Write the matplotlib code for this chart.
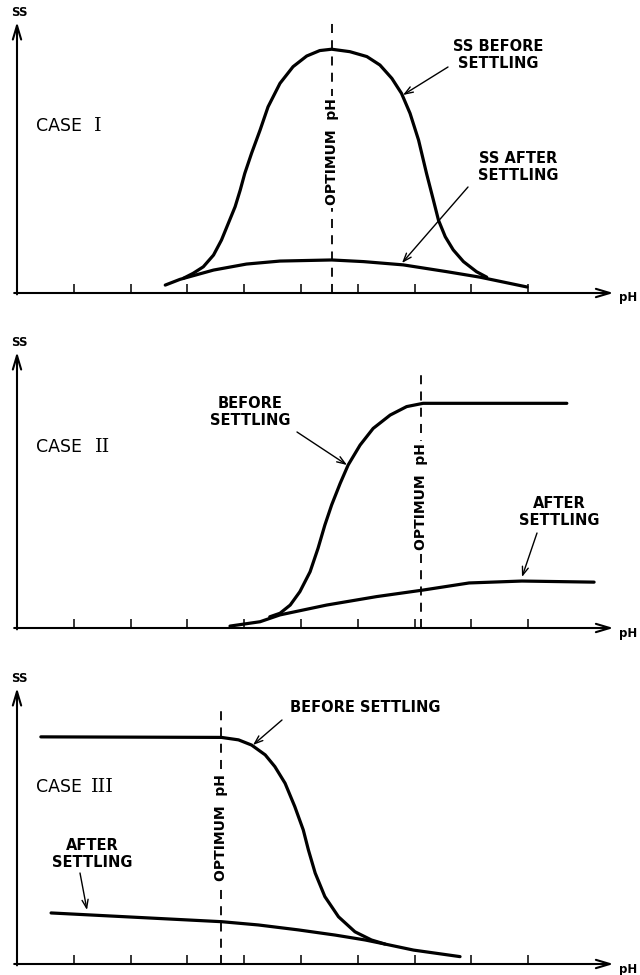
import matplotlib
matplotlib.use('Agg')
import matplotlib.pyplot as plt

plt.rcParams['font.family'] = ['DejaVu Sans', 'Noto Sans CJK JP']

W, H = 640, 975
XPX, YPX = 56.8, 27.3      # pixels per x unit / y unit
X0 = 17                    # pixel column of the SS axis

ticks = [1, 2, 3, 4, 5, 6, 7, 8, 9]

# case I
before1_x = [2.93, 3.10, 3.28, 3.46, 3.60, 3.72, 3.84, 3.93, 4.01, 4.13, 4.28,
             4.42, 4.63, 4.86, 5.10, 5.33, 5.54, 5.86, 6.16, 6.39, 6.60, 6.77,
             6.92, 7.07, 7.21, 7.33, 7.42, 7.54, 7.68, 7.86, 8.09, 8.27]
before1_y = [0.54, 0.72, 0.96, 1.39, 1.94, 2.55, 3.16, 3.77, 4.38, 5.12, 5.97,
             6.82, 7.68, 8.29, 8.68, 8.88, 8.93, 8.84, 8.66, 8.35, 7.86, 7.31,
             6.58, 5.60, 4.38, 3.41, 2.67, 2.06, 1.58, 1.15, 0.78, 0.58]
after1_x = [2.61, 2.87, 3.46, 4.04, 4.63, 5.54, 6.10, 6.80, 7.57, 8.15, 8.98]
after1_y = [0.29, 0.50, 0.84, 1.06, 1.17, 1.21, 1.15, 1.03, 0.78, 0.58, 0.22]
opt1 = 5.55

# case II
before2_x = [4.45, 4.63, 4.81, 4.98, 5.16, 5.30, 5.42, 5.54, 5.69, 5.83, 6.04,
             6.27, 6.57, 6.86, 7.15, 8.50, 9.68]
before2_y = [0.41, 0.54, 0.84, 1.33, 2.06, 2.92, 3.77, 4.51, 5.30, 5.97, 6.70,
             7.31, 7.80, 8.11, 8.23, 8.23, 8.23]
after2_x = [3.75, 4.28, 4.63, 5.45, 6.33, 7.15, 7.96, 8.89, 10.16]
after2_y = [0.07, 0.23, 0.48, 0.84, 1.15, 1.39, 1.65, 1.72, 1.68]
opt2 = 7.12

# case III
before3_x = [0.42, 3.60, 3.90, 4.13, 4.37, 4.54, 4.72, 4.89, 5.04, 5.13, 5.25,
             5.42, 5.66, 5.95, 6.24, 6.48]
before3_y = [8.32, 8.30, 8.21, 8.02, 7.66, 7.23, 6.62, 5.77, 4.91, 4.18, 3.33,
             2.47, 1.73, 1.18, 0.88, 0.73]
after3_x = [0.60, 3.60, 4.25, 4.95, 5.60, 6.13, 6.48, 6.98, 7.80]
after3_y = [1.87, 1.55, 1.43, 1.25, 1.06, 0.88, 0.73, 0.51, 0.27]
opt3 = 3.60

fig = plt.figure(figsize=(W / 100, H / 100), dpi=100)


def panel(top, bottom, axis_py):
    ax = fig.add_axes([0, 1 - bottom / H, 1, (bottom - top) / H])
    ax.set_xlim(-X0 / XPX, (W - X0) / XPX)
    ax.set_ylim((axis_py - bottom) / YPX, (axis_py - top) / YPX)
    ax.axis('off')
    return ax


def to_data(axis_py, px, py):
    return (px - X0) / XPX, (axis_py - py) / YPX


def frame(ax, axis_py, ytop_py):
    top = (axis_py - ytop_py) / YPX
    ax.annotate('', xy=(0, top), xytext=(0, -0.05),
                arrowprops=dict(arrowstyle='->,head_length=1.0,head_width=0.3',
                                lw=1.5, color='black', shrinkA=0, shrinkB=0))
    ax.annotate('', xy=(10.5, 0), xytext=(-0.05, 0),
                arrowprops=dict(arrowstyle='->,head_length=1.0,head_width=0.3',
                                lw=1.5, color='black', shrinkA=0, shrinkB=0))
    ax.vlines(ticks, 0, 0.33, color='black', lw=1.1)
    ax.text(*to_data(axis_py, 19, ytop_py - 10), 'SS', fontsize=8.5,
            fontweight='bold', ha='center', va='center')
    ax.text(*to_data(axis_py, 628, axis_py + 5), 'pH', fontsize=8.5,
            fontweight='bold', ha='center', va='center')


def optimum(ax, axis_py, x, top_py, label_py):
    ax.vlines(x, 0, (axis_py - top_py) / YPX, color='black', lw=1.3,
              linestyles=(0, (5, 4)))
    ax.text(x, (axis_py - label_py) / YPX, 'OPTIMUM  pH', rotation=90,
            fontsize=10, fontweight='bold', ha='center', va='center',
            bbox=dict(facecolor='white', edgecolor='none', pad=1.5))


def label(ax, axis_py, px, py, s, head, tail):
    ax.text(*to_data(axis_py, px, py), s, fontsize=10.5, fontweight='bold',
            ha='center', va='center', linespacing=1.15)
    ax.annotate('', xy=to_data(axis_py, *head), xytext=to_data(axis_py, *tail),
                arrowprops=dict(arrowstyle='->,head_length=0.6,head_width=0.22',
                                lw=1.0, color='black', shrinkA=0, shrinkB=0))


def case(ax, axis_py, py, numeral, num_px):
    ax.text(*to_data(axis_py, 36, py), 'CASE', fontsize=12.5, ha='left',
            va='center')
    # serif face so the numeral strokes get their top and bottom bars
    ax.text(*to_data(axis_py, num_px, py), numeral, fontsize=14, ha='left',
            va='center', family=['DejaVu Serif', 'DejaVu Sans'])


curve = dict(color='black', lw=2.3, solid_capstyle='round',
             solid_joinstyle='round')

# case I
ax1 = panel(0, 315, 293)
frame(ax1, 293, 22)
ax1.plot(after1_x, after1_y, **curve)
ax1.plot(before1_x, before1_y, **curve)
optimum(ax1, 293, opt1, 22, 152)
case(ax1, 293, 126, 'I', 94)
label(ax1, 293, 498, 55, 'SS BEFORE\nSETTLING', (403, 95), (448, 67))
label(ax1, 293, 518, 167, 'SS AFTER\nSETTLING', (402, 263), (468, 187))

# case II
ax2 = panel(315, 650, 628)
frame(ax2, 628, 352)
ax2.plot(after2_x, after2_y, **curve)
ax2.plot(before2_x, before2_y, **curve)
optimum(ax2, 628, opt2, 368, 497)
case(ax2, 628, 447, 'II', 95)
label(ax2, 628, 250, 412, 'BEFORE\nSETTLING', (347, 465), (297, 432))
label(ax2, 628, 559, 512, 'AFTER\nSETTLING', (522, 577), (537, 533))

# case III
ax3 = panel(650, 975, 964)
frame(ax3, 964, 688)
ax3.plot(after3_x, after3_y, **curve)
ax3.plot(before3_x, before3_y, **curve)
optimum(ax3, 964, opt3, 708, 828)
case(ax3, 964, 787, 'III', 91)
label(ax3, 964, 365, 708, 'BEFORE SETTLING', (253, 745), (282, 720))
label(ax3, 964, 92, 854, 'AFTER\nSETTLING', (87, 910), (80, 873))

fig.savefig('out.png', dpi=100, facecolor='white')
